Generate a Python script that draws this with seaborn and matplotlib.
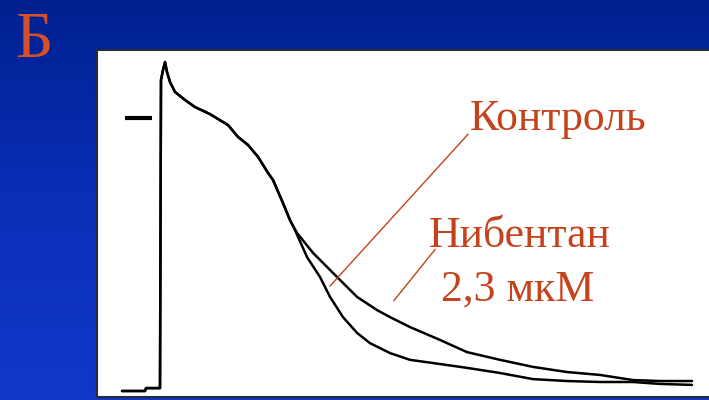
import numpy as np
import pandas as pd
import matplotlib
matplotlib.use("Agg")
import matplotlib.pyplot as plt
from matplotlib.colors import LinearSegmentedColormap
import seaborn as sns

# Action potential traces: time (ms) and membrane potential (mV)
t_common = [-38, -15, -14, -1, 0, 1, 3, 5, 7, 10, 15, 25, 35, 50, 68, 78, 88, 98, 108, 113, 123, 130]
v_common = [-85.0, -85.0, -84.1, -84.1, -84.1, 11.8, 14.9, 17.4, 14.3, 11.2, 8.1, 5.6, 3.4, 1.2,
            -2.2, -5.9, -8.4, -12.1, -17.1, -19.3, -26.5, -31.8]

t_control = [135, 147, 160, 170, 183, 197, 210, 230, 250, 273, 307, 340, 373, 407, 440, 473, 500, 532]
v_control = [-34.9, -43.3, -49.5, -55.7, -62.0, -66.9, -70.1, -73.2, -75.3, -76.3, -77.8, -79.4,
             -81.3, -81.9, -82.2, -82.2, -82.8, -83.1]

t_nibentan = [137, 153, 177, 197, 217, 230, 250, 280, 307, 340, 373, 407, 440, 473, 500, 532]
v_nibentan = [-35.8, -42.0, -49.5, -55.7, -59.8, -62.0, -65.1, -69.1, -72.9, -75.3, -77.5, -79.1,
              -80.0, -81.6, -81.9, -81.9]

label_control = "Контроль"
label_nibentan = ["Нибентан", "2,3 мкМ"]
panel_letter = "Б"
zero_mark_v = 0.0

df = pd.concat([
    pd.DataFrame({"t": t_common + t_control, "v": v_common + v_control, "trace": "control"}),
    pd.DataFrame({"t": t_common + t_nibentan, "v": v_common + v_nibentan, "trace": "nibentan"}),
], ignore_index=True)

sns.set_style("white")
plt.rcParams["font.family"] = ["Liberation Serif", "DejaVu Serif"]

W, H = 709, 400
fig = plt.figure(figsize=(W / 100, H / 100), dpi=100)

# blue slide background
bg = fig.add_axes([0, 0, 1, 1], zorder=0)
grad = np.linspace(0, 1, 256).reshape(-1, 1)
cmap = LinearSegmentedColormap.from_list("slide", ["#00208e", "#0a2fb8", "#1038c8"])
bg.imshow(grad, aspect="auto", cmap=cmap, extent=[0, 1, 0, 1], origin="upper")
bg.set_axis_off()

fig.text(15 / W, 1 - 57 / H, panel_letter, color="#d4502a", fontsize=47,
         ha="left", va="baseline", family=["Liberation Serif", "DejaVu Serif"])

# white recording panel
x0, x1, y0, y1 = 97, 709, 50, 397
ax = fig.add_axes([x0 / W, 1 - y1 / H, (x1 - x0) / W, (y1 - y0) / H], zorder=1)
ax.set_facecolor("white")

sns.lineplot(data=df, x="t", y="v", hue="trace", palette={"control": "black", "nibentan": "black"},
             estimator=None, sort=False, legend=False, linewidth=1.8, ax=ax)

# 0 mV marker
ax.plot([-35, -8], [zero_mark_v, zero_mark_v], color="black", linewidth=3, solid_capstyle="butt")

ax.set_xlim(-63, 549)
ax.set_ylim(-86.87, 21.16)
ax.set_xticks([])
ax.set_yticks([])
ax.set_xlabel("")
ax.set_ylabel("")
for side in ("left", "top", "bottom"):
    ax.spines[side].set_color("#2a2a3a")
    ax.spines[side].set_linewidth(1.5)
ax.spines["right"].set_visible(False)

txt_color = "#c4421c"
ax.annotate("", xy=(168, -53.0), xytext=(310, -4.4),
            arrowprops=dict(arrowstyle="-", color=txt_color, lw=1.0))
ax.annotate("", xy=(232, -57.6), xytext=(277, -40.2),
            arrowprops=dict(arrowstyle="-", color=txt_color, lw=1.0))

ax.text(310, -3.7, label_control, color=txt_color, fontsize=31.5, ha="left", va="baseline")
ax.text(360, -40.2, label_nibentan[0], color=txt_color, fontsize=31.5, ha="center", va="baseline")
ax.text(358, -56.7, label_nibentan[1], color=txt_color, fontsize=31.5, ha="center", va="baseline")

fig.savefig("out.png", dpi=100, facecolor=fig.get_facecolor())
